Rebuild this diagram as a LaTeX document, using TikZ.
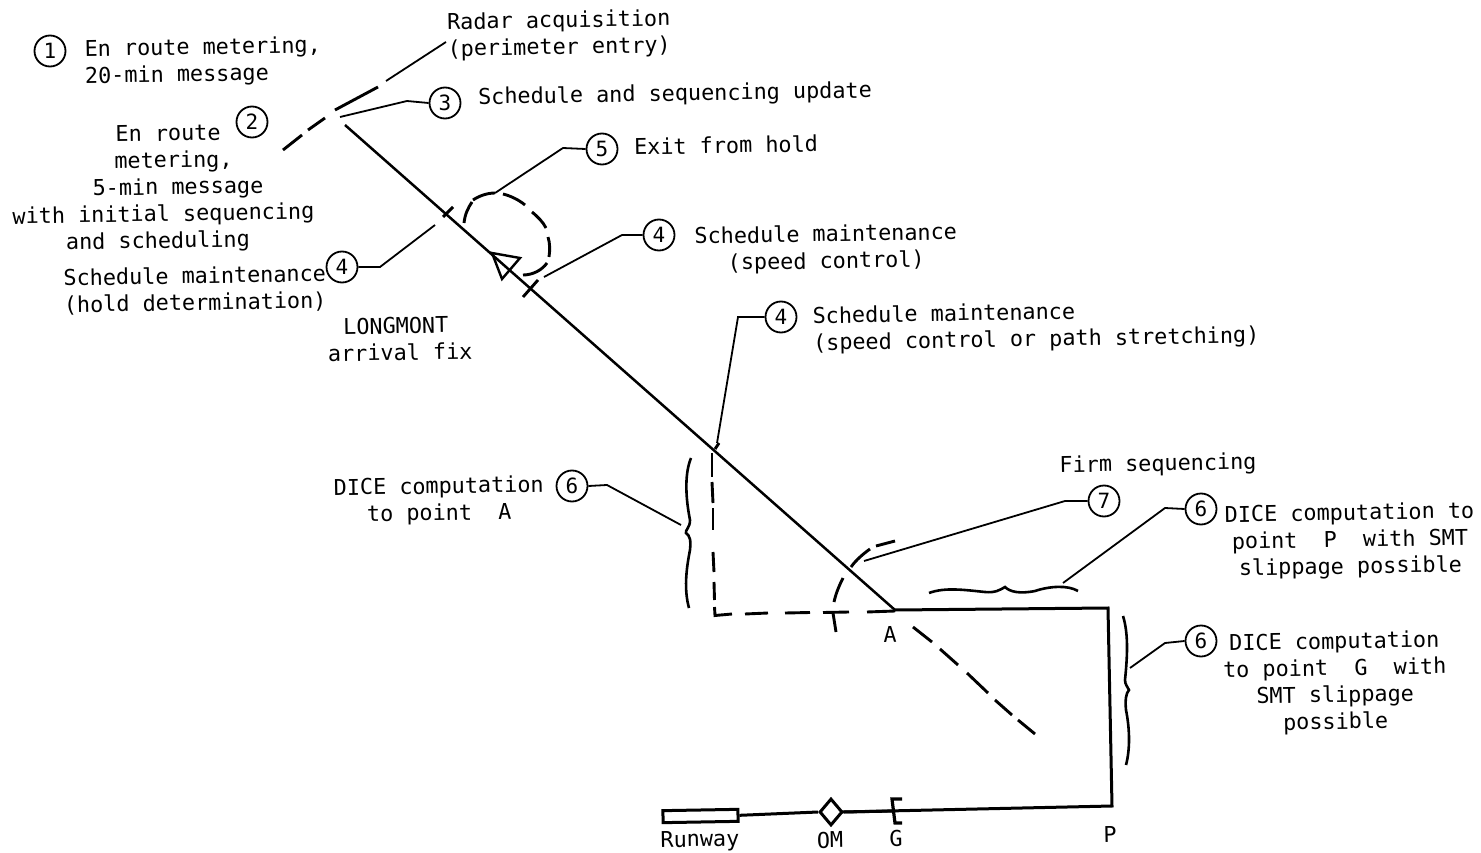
\documentclass[tikz,border=0pt]{standalone}
\usepackage{fontspec}
\usetikzlibrary{shapes.geometric}
\setmainfont{DejaVu Sans Mono}
\tikzset{
  lab/.style={font=\fontsize{21.8}{26.8}\selectfont,inner sep=0pt,rotate=1,align=center,text=black},
  labl/.style={lab,align=left},
  num/.style={draw,circle,line width=1.8pt,minimum size=31pt,inner sep=0pt,font=\fontsize{21}{24}\selectfont},
  heavy/.style={line width=3pt,line join=miter},
  main/.style={line width=2.5pt},
  lead/.style={line width=1.8pt},
  seg/.style={line width=2.9pt},
  curly/.style={line width=2.6pt}
}
\begin{document}
\begin{tikzpicture}[x=1pt,y=-1pt]
\useasboundingbox (0,0) rectangle (1481,853);
\fill[white] (0,0) rectangle (1481,853);
% circled numbers
\node[num] (c1) at (50,51) {1};
\node[num] (c2) at (252,122) {2};
\node[num] (c3) at (445,103) {3};
\node[num] (c4a) at (342,267) {4};
\node[num] (c4b) at (659,235) {4};
\node[num] (c4c) at (781,317) {4};
\node[num] (c5) at (602,149) {5};
\node[num] (c6a) at (572,486) {6};
\node[num] (c6b) at (1201,509) {6};
\node[num] (c6c) at (1201,641) {6};
\node[num] (c7) at (1104,501) {7};
% texts
\node[labl] (t1) at (203,62) {En route metering,\\20-min message};
\node[labl] (t0) at (559,35) {Radar acquisition\\(perimeter entry)};
\node[lab] (t2) at (163,189) {\hspace*{12pt}En route\\\hspace*{22pt}metering,\\\hspace*{30pt}5-min message\\with initial sequencing\\and scheduling\hspace*{12pt}};
\node[lab] (t3) at (675,95) {Schedule and sequencing update};
\node[lab] (t5) at (726,145) {Exit from hold};
\node[lab] (t4b) at (826,249) {Schedule maintenance\\(speed control)};
\node[lab] (t4a) at (195,290) {Schedule maintenance\\(hold determination)};
\node[lab] (tl) at (400,339) {LONGMONT\hspace*{8pt}\\arrival fix};
\node[labl] (t4c) at (1036,327) {Schedule maintenance\\(speed control or path stretching)};
\node[lab] (t6a) at (439,501) {DICE computation\\to point~~A};
\node[lab] (tf) at (1158,465) {Firm sequencing};
\node[lab] (t6b) at (1350,541) {DICE computation to\\point~~P~~with SMT\\slippage possible};
\node[lab] (t6c) at (1335,683) {DICE computation\\to point~~G~~with\hspace*{20pt}\\SMT slippage\\possible};
\node[lab] (ta) at (890,634) {A};
\node[lab] (tp) at (1110,834) {P};
\node[lab] (tg) at (896,838) {G};
\node[lab] (tom) at (830,840) {OM};
\node[lab] (tr) at (700,841) {Runway};
% key points
\coordinate (start) at (345,125);
\coordinate (A) at (895,610);
\coordinate (P1) at (1108,608);
\coordinate (P2) at (1112,806);
% main path
\draw[main] (start) -- (A);
\draw[heavy] (A) -- (P1) -- (P2) -- (842,812);
% vertical dashes
\draw[seg] (712,453) -- (712,477);
\draw[seg] (712,482) -- (713,503);
\draw[seg] (713,508) -- (713,530);
\draw[seg] (713,552) -- (714,572);
\draw[seg] (714,582) -- (714.5,600);
% corner and horizontal dashes
\draw[seg] (714.5,607) -- (715,615.5) -- (732,614);
\draw[seg] (745,614) -- (768,613);
\draw[seg] (785,613) -- (810,612.5);
\draw[seg] (823,612.5) -- (849,612);
\draw[seg] (867,612) -- (895,611);
% extension dashes
\draw[seg] (913,627) -- (932,642);
\draw[seg] (940,649) -- (958,665);
\draw[seg] (967,673) -- (988,693);
\draw[seg] (995,700) -- (1012,715);
\draw[seg] (1018,720) -- (1035,734);
% radar arc
\draw[seg] (283,150) -- (302,135);
\draw[seg] (308,130) -- (325,118);
\draw[seg] (335,110) -- (378,87);
\draw[lead] (386,81) -- (446,42);
\draw[lead] (c3.west) -- (407,101) -- (340,117);
% hold
\coordinate (tr1) at (492,253);
\coordinate (tr2) at (520,258);
\coordinate (tr3) at (502,279);
\draw[line width=2.4pt] (tr1) -- (tr2) -- (tr3) -- cycle;
\draw[seg] (464,223) .. controls (465,214) and (468,208) .. (472,202);
\draw[seg] (473,200) .. controls (479,196) and (487,193) .. (495,193);
\draw[seg] (503,194) .. controls (511,196) and (519,200) .. (525,205);
\draw[seg] (532,212) .. controls (538,217) and (543,222) .. (546,228);
\draw[seg] (548,237) .. controls (550,243) and (550,250) .. (549,257);
\draw[seg] (547,263) .. controls (542,270) and (533,275) .. (523,275);
\draw[lead] (c5.west) -- (563,148) -- (495,193);
% ticks and leaders
\draw[seg] (443,217) -- (453,207);
\draw[lead] (c4a.east) -- (380,267) -- (435,225);
\draw[seg] (523,297) -- (538,280);
\draw[lead] (c4b.west) -- (622,235) -- (544,277);
\draw[seg] (715,449) -- (719,443);
\draw[lead] (c4c.west) -- (738,317) -- (717,443);
% firm sequencing arc
\draw[seg] (834,602) .. controls (836,593) and (839,586) .. (843,578);
\draw[seg] (851,567) .. controls (856,560) and (863,554) .. (870,549);
\draw[seg] (876,546) -- (895,541);
\draw[seg] (833,613) -- (836,632);
\draw[lead] (c7.west) -- (1065,501) -- (864,561);
% braces
\draw[curly] (691,458) .. controls (684,475) and (686,500) .. (690,520) .. controls (690,528) and (685,530) .. (686,533) .. controls (690,536) and (691,540) .. (690,550) .. controls (686,570) and (684,590) .. (689,608);
\draw[lead] (681,525) -- (607,485) -- (c6a.east);
\draw[curly] (929,593) .. controls (945,587) and (965,590) .. (985,592) .. controls (995,593) and (1000,590) .. (1005,587) .. controls (1010,592) and (1020,594) .. (1035,591) .. controls (1050,586) and (1068,585) .. (1078,591);
\draw[lead] (1063,583) -- (1165,508) -- (c6b.west);
\draw[curly] (1123,616) .. controls (1129,635) and (1127,660) .. (1125,680) .. controls (1125,685) and (1128,687) .. (1129,690) .. controls (1126,693) and (1125,700) .. (1126,710) .. controls (1130,730) and (1130,750) .. (1126,765);
\draw[lead] (1130,668) -- (1165,643) -- (c6c.west);
% runway
\node[draw,line width=3pt,minimum width=75pt,minimum height=12pt,inner sep=0pt,rotate=1] (rw) at (700.5,816) {};
\node[draw,diamond,line width=3pt,minimum width=23pt,minimum height=27pt,inner sep=0pt] (om) at (831,812) {};
\draw[heavy] (rw.east) -- (om.west);
\draw[heavy] (om.east) -- (894,811);
\draw[line width=3.2pt] (902,799) -- (892,799) -- (895,823) -- (902,823);
\end{tikzpicture}
\end{document}
